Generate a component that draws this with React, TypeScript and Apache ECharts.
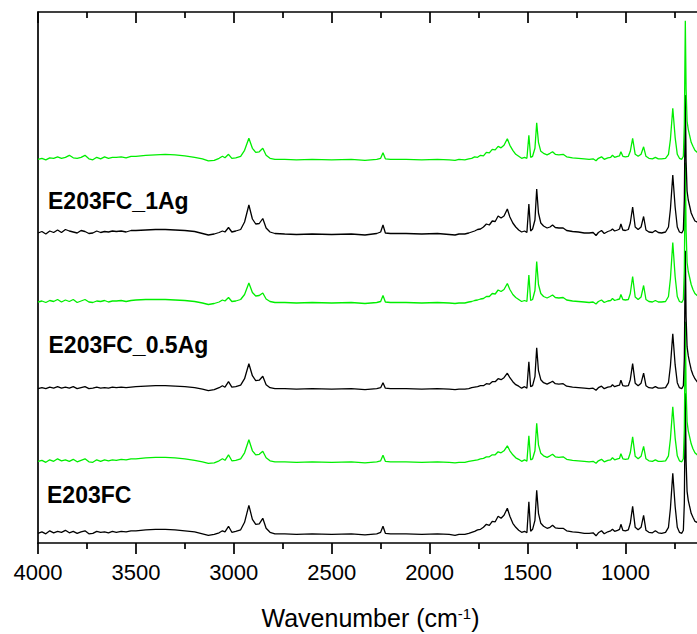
import React, { useEffect, useRef } from "react";
import * as echarts from "echarts";

// Wavenumbers (cm-1) at which each spectrum was read
const WN = [
  4000, 3980, 3960, 3940, 3920, 3900, 3880, 3860, 3840, 3820,
  3800, 3780, 3760, 3740, 3720, 3700, 3680, 3660, 3640, 3620,
  3600, 3575, 3550, 3525, 3500, 3450, 3400, 3350, 3300, 3250,
  3200, 3160, 3130, 3100, 3075, 3058, 3045, 3027, 3010, 2990,
  2965, 2945, 2923, 2905, 2888, 2870, 2852, 2835, 2815, 2790,
  2740, 2680, 2600, 2500, 2400, 2330, 2270, 2250, 2238, 2226,
  2200, 2120, 2040, 1960, 1900, 1870, 1850, 1820, 1800, 1785,
  1770, 1755, 1740, 1725, 1710, 1695, 1680, 1665, 1650, 1635,
  1620, 1603, 1590, 1575, 1560, 1545, 1530, 1515, 1503, 1493,
  1484, 1474, 1462, 1453, 1444, 1432, 1418, 1400, 1385, 1372,
  1358, 1340, 1318, 1300, 1270, 1240, 1210, 1185, 1165, 1150,
  1138, 1122, 1108, 1090, 1075, 1066, 1055, 1040, 1030, 1023,
  1013, 1000, 985, 975, 963, 950, 935, 920, 907, 895,
  880, 862, 847, 832, 815, 795, 780, 770, 758, 746,
  735, 724, 712, 704, 699, 694, 690, 685, 679, 672,
  664, 655, 645, 634, 620, 600,
];

// E203FC (black, bottom)
const B0 = [
  0, 1.5, -0.5, 2.5, 0.5, 2, 1, 3, 0.5, 2,
  0, 1.5, 2.5, -0.5, 0, 2, 1, 1.5, 0.5, 2,
  1, 2, 1.5, 2.5, 2.5, 3.5, 4, 4, 3.5, 2.5,
  1.5, -0.5, -2, -1, 0.5, 2.5, 1.5, 7, 1, 2,
  3.5, 11, 28, 14, 9, 9.5, 15, 5, 1, -0.5,
  -0.5, -1, -0.5, -1, -0.5, -1.5, -0.5, 1, 7, 0,
  -0.5, -0.5, -1, -0.5, -1, -2, -1, -1, 0, 1,
  2, 3.5, 4, 6, 9, 8, 12, 11.5, 17, 15,
  18, 25, 17, 10, 6, 3, 1, 2, 0.5, 31.5,
  2, 4, 13, 43, 20, 10, 7, 5, 6, 8,
  5.5, 5, 5, 2.5, 1.5, 1, 0, 0, 0.5, -2.5,
  0.5, 2.5, -0.5, 1.5, 2.5, 4, 2, 3, 4, 9,
  3, 2.5, 3.5, 10, 27, 6, 3.5, 6, 18, 3,
  1, 0.5, 2.5, 0.5, 0, 1, 6, 25, 60, 27,
  6, 1, 0, 3, 30, 140, 72, 42, 33, 27,
  20, 16, 12, 11, 8, 6,
];

// E203FC (green)
const G1 = [
  0.5, 1.5, -0.5, 2, 0.5, 3, 1, 2, 0.5, 2.5,
  0, 1.5, 3, 0, -0.5, 2, 0.5, 2, 1, 2,
  1.5, 2.5, 2, 3, 3, 4, 4.5, 4.5, 4, 3,
  1.5, 0, -1.5, -1, 1, 3, 1.5, 7, 1, 1.5,
  3, 9, 22, 11, 7, 7.5, 10.5, 4, 1, 0,
  0, -0.5, 0, -0.5, 0, -1, 0, 1, 6.5, 0.5,
  0, 0, -0.5, 0, -0.5, -1, -0.5, -0.5, 0.5, 1,
  1.5, 2, 3, 3.5, 5, 5, 7, 7, 10, 9,
  11, 16, 11, 7, 4, 2.5, 0.5, 2, 0.5, 26,
  2, 3, 11, 38.5, 17, 8.5, 6, 4.5, 6, 7.5,
  5, 4.5, 5, 2.5, 1.5, 1, 0.5, 0, 0.5, -1.5,
  1, 2.5, 0, 1.5, 2, 4, 2, 3, 3.5, 8,
  3, 2.5, 3, 9, 25, 5.5, 3, 5.5, 15.5, 3,
  1, 0.5, 2, 0.5, 0.5, 1, 6, 23, 55, 24,
  6, 1, 0, 3, 32, 140, 72, 40, 31, 25,
  18, 13, 9, 7, 5, 4,
];

// E203FC_0.5Ag (black)
const B05 = [
  0, 1, 0, 1.5, 0.5, 2, 0.5, 1.5, 0.5, 2,
  0, 1, 2, 0, 0.5, 1.5, 0.5, 1, 0.5, 1.5,
  1, 1.5, 1, 1.5, 2, 2.5, 3, 3, 2.5, 2,
  1, -0.5, -2, -1, 1, 3, 1.5, 7, 1.5, 2,
  3.5, 10, 25, 13, 8, 8.5, 12.5, 4, 1, 0,
  0, -0.5, 0, -0.5, 0, -1, 0, 1, 6, 0.5,
  0, 0, -0.5, 0, -0.5, -1, -0.5, -0.5, 0, 1,
  1.5, 2, 3, 3, 5, 4.5, 7, 7, 10, 9,
  11, 15.5, 11, 7, 4, 2.5, 0.5, 2, 0.5, 27,
  2, 3, 12, 41, 18, 9, 6, 4.5, 6, 7.5,
  5, 4.5, 5, 2.5, 1.5, 1, 0.5, 0, 0.5, -1.5,
  1, 2.5, 0, 1.5, 2, 4, 2, 3, 3.5, 8.5,
  3, 2.5, 3, 9, 25, 5.5, 3, 5.5, 15.5, 3,
  1, 0.5, 2, 0.5, 0.5, 1, 6, 23, 55, 24,
  6, 1, 0, 3, 30, 138, 72, 42, 33, 26,
  19, 14, 10, 7, 5, 4,
];

// E203FC_0.5Ag (green)
const G2 = [
  0.5, 1.5, 0, 2, 1, 3, 0.5, 2.5, 1, 3,
  0, 1.5, 3, 0.5, 0, 1.5, 1, 2, 0.5, 1.5,
  1.5, 2, 1, 2, 2.5, 3, 3, 3, 2.5, 2,
  1, -0.5, -2, -1, 0.5, 2.5, 1.5, 5, 1, 1.5,
  3, 8, 19.5, 10, 6.5, 7, 9.5, 3.5, 1, 0,
  0, -0.5, 0, -0.5, 0, -1, 0, 1, 7, 0.5,
  0, 0, -0.5, 0, -0.5, -1, -0.5, -0.5, 0.5, 1,
  2, 2.5, 3.5, 4, 6, 6, 9, 8.5, 12.5, 11,
  13, 19, 13, 8, 5, 3, 1, 2, 1, 27.5,
  2, 3, 12, 41, 18, 9, 6, 4.5, 6, 7.5,
  5, 4.5, 5, 2.5, 1.5, 1, 0.5, 0, 0.5, -1.5,
  1, 2.5, 0, 1.5, 2, 4, 2, 3, 3.5, 8,
  3, 2.5, 3, 9, 26, 5.5, 3, 5.5, 17, 3,
  1, 0.5, 2, 0.5, 0.5, 1, 6, 24, 60, 26,
  6, 1, 0, 3, 32, 140, 72, 40, 31, 25,
  18, 13, 9, 7, 5, 4,
];

// E203FC_1Ag (black)
const B1 = [
  0, 1.5, -1, 2, 0.5, 3, 0.5, 3.5, 2, 1,
  0, 2.5, 1.5, -0.5, 0, 2, 0.5, 1.5, 1, 2,
  1.5, 2, 1, 2.5, 2.5, 3, 3.5, 3.5, 3, 2.5,
  1.5, -0.5, -2, -1, 0.5, 2, 1, 5.5, 1, 2,
  3.5, 11, 28, 14, 9, 9.5, 14.5, 5, 1, -0.5,
  -1, -1.5, -1, -1.5, -1, -2, -0.5, 1, 8, 0,
  -0.5, -0.5, -1, -0.5, -1.5, -2, -1, -1, 0, 1,
  2, 3.5, 4, 6, 9, 8, 12, 11.5, 17, 15,
  17, 24, 16, 10, 6, 3, 1, 2, 0.5, 29,
  2, 4, 13, 44, 20, 10, 7, 5, 6, 8,
  5.5, 5, 5, 2.5, 1.5, 1, 0, 0, 0.5, -2.5,
  0.5, 2.5, -0.5, 1.5, 2.5, 4, 2, 3, 4, 9,
  3, 2.5, 3.5, 10, 26, 6, 3.5, 6, 16.5, 3,
  1, 0.5, 2.5, 0.5, 0, 1, 6, 24, 58, 26,
  6, 1, 0, 3, 33, 138, 72, 42, 33, 27,
  20, 16, 12, 11, 8, 6,
];

// E203FC_1Ag (green, top)
const G3 = [
  0, 1, -0.5, 1.5, 1, 2.5, 1, 2, 4, 1.5,
  1, 2, 4, 0.5, -0.5, 2, 0.5, 2.5, 1, 2,
  2, 2.5, 1.5, 3, 3, 4, 4.5, 5, 4.5, 3.5,
  2, 0.5, -1.5, -1, 1, 3, 1.5, 5, 1, 1.5,
  3, 9, 21, 11, 7, 7.5, 11, 4, 1, 0,
  0, -0.5, 0, -0.5, 0, -1, 0, 1, 6.5, 0.5,
  0, 0, -0.5, 0, -0.5, -1, 0, -0.5, 0.5, 1,
  2.5, 2, 4, 3.5, 7, 6.5, 10, 9.5, 13, 11.5,
  14, 20.5, 14, 9, 5, 3, 1, 2, 1, 24,
  2, 3, 11, 36.5, 17, 8, 6, 4.5, 6, 7.5,
  5, 4.5, 5, 2.5, 1.5, 1, 0.5, 0, 0.5, -1.5,
  1, 2.5, 0, 1.5, 2, 4, 2, 3, 3.5, 7.5,
  3, 2.5, 3, 8, 21, 5, 3, 5, 12.5, 3,
  1, 0.5, 2, 0.5, 0.5, 1, 5, 20, 51, 22,
  5, 1, 0, 3, 35, 138.5, 70, 38, 30, 24,
  17, 13, 9, 7, 5, 4,
];

// Vertical offsets of the stacked spectra (same units as intensities)
const OFFSETS = [9.7, 81.2, 154.3, 240.5, 310, 383.7];
const TRACES = [B0, G1, B05, G2, B1, G3];
const COLORS = ["#000000", "#00ee00", "#000000", "#00ee00", "#000000", "#00ee00"];
const NAMES = ["E203FC", "E203FC green", "E203FC_0.5Ag", "E203FC_0.5Ag green", "E203FC_1Ag", "E203FC_1Ag green"];

const LABELS = ["E203FC_1Ag", "E203FC_0.5Ag", "E203FC"];
const X_TITLE = "Wavenumber (cm";

const FONT = "Arial, 'Liberation Sans', Helvetica, sans-serif";

export default function App() {
  const ref = useRef<HTMLDivElement>(null);

  useEffect(() => {
    if (!ref.current) return;
    const chart = echarts.init(ref.current, undefined, { renderer: "svg" });

    const series = TRACES.map((vals, k) => ({
      name: NAMES[k],
      type: "line",
      xAxisIndex: 0,
      yAxisIndex: 0,
      symbol: "none",
      showSymbol: false,
      silent: true,
      lineStyle: { color: COLORS[k], width: 1.3 },
      data: WN.map((w, i) => [w, vals[i] + OFFSETS[k]]),
      z: 2 + k,
    }));

    const axisCommon = {
      type: "value",
      min: 500,
      max: 4000,
      interval: 500,
      inverse: true,
      splitLine: { show: false },
      axisLine: { show: true, onZero: false, lineStyle: { color: "#000", width: 1.7 } },
      minorTick: { show: true, splitNumber: 2, length: 6, lineStyle: { color: "#000", width: 1.7 } },
      minorSplitLine: { show: false },
    };

    chart.setOption({
      animation: false,
      backgroundColor: "#ffffff",
      grid: { left: 38, right: 16.7, top: 12, bottom: 91, containLabel: false },
      xAxis: [
        {
          ...axisCommon,
          position: "bottom",
          axisTick: { show: true, length: 11, inside: false, lineStyle: { color: "#000", width: 1.7 } },
          axisLabel: {
            show: true,
            color: "#000",
            fontSize: 22,
            fontFamily: FONT,
            margin: 18,
            showMinLabel: false,
            formatter: (v: number) => String(v),
          },
        },
        {
          ...axisCommon,
          position: "top",
          axisTick: { show: true, length: 11, inside: true, lineStyle: { color: "#000", width: 1.7 } },
          minorTick: { show: true, splitNumber: 2, length: 6, lineStyle: { color: "#000", width: 1.7 } },
          axisLabel: { show: false },
        },
      ],
      yAxis: {
        type: "value",
        min: 0,
        max: 531,
        axisLine: { show: true, lineStyle: { color: "#000", width: 1.7 } },
        axisTick: { show: false },
        axisLabel: { show: false },
        splitLine: { show: false },
      },
      series,
      graphic: [
        {
          type: "text",
          x: 48,
          y: 200.7,
          style: { text: LABELS[0], fill: "#000", fontSize: 23, fontWeight: "bold", fontFamily: FONT, align: "left", verticalAlign: "middle" },
          z: 100,
        },
        {
          type: "text",
          x: 48.5,
          y: 344.5,
          style: { text: LABELS[1], fill: "#000", fontSize: 23, fontWeight: "bold", fontFamily: FONT, align: "left", verticalAlign: "middle" },
          z: 100,
        },
        {
          type: "text",
          x: 47,
          y: 495,
          style: { text: LABELS[2], fill: "#000", fontSize: 23, fontWeight: "bold", fontFamily: FONT, align: "left", verticalAlign: "middle" },
          z: 100,
        },
        {
          type: "text",
          x: 370.5,
          y: 618,
          style: {
            text: X_TITLE + "{s|-1})",
            fill: "#000",
            fontSize: 25,
            fontFamily: FONT,
            align: "center",
            verticalAlign: "middle",
            rich: {
              s: { fontSize: 15, fontFamily: FONT, fill: "#000", verticalAlign: "top" },
            },
          },
          z: 100,
        },
      ],
    });

    return () => chart.dispose();
  }, []);

  return (
    <div style={{ position: "fixed", left: 0, top: 0, width: 697, height: 634, overflow: "hidden", background: "#fff" }}>
      <div ref={ref} style={{ width: 740, height: 634 }} />
    </div>
  );
}
